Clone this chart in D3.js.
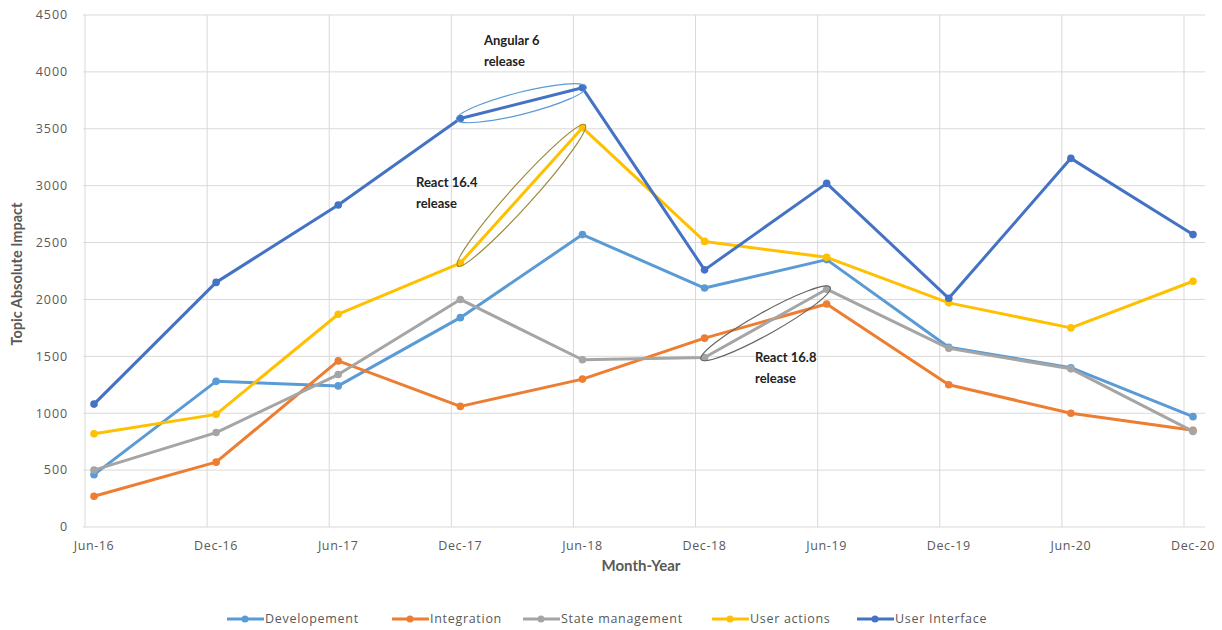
<!DOCTYPE html>
<html>
<head>
<meta charset="utf-8">
<script src="https://cdn.jsdelivr.net/npm/d3@7/dist/d3.min.js"></script>
<style>
  html, body { margin: 0; padding: 0; background: #fff; }
  svg { display: block; }
</style>
</head>
<body>
<div id="chart"></div>
<script>
  /* --- data ---------------------------------------------------------------- */
  const months = ['Jun-16', 'Dec-16', 'Jun-17', 'Dec-17', 'Jun-18', 'Dec-18', 'Jun-19', 'Dec-19', 'Jun-20', 'Dec-20'];
  const yTicks = [0, 500, 1000, 1500, 2000, 2500, 3000, 3500, 4000, 4500];

  const developement    = [460, 1280, 1240, 1840, 2570, 2100, 2350, 1580, 1400, 970];
  const integration     = [270, 570, 1460, 1060, 1300, 1660, 1960, 1250, 1000, 850];
  const stateManagement = [500, 830, 1340, 2000, 1470, 1490, 2090, 1570, 1390, 840];
  const userActions     = [820, 990, 1870, 2320, 3510, 2510, 2370, 1970, 1750, 2160];
  const userInterface   = [1080, 2150, 2830, 3590, 3860, 2260, 3020, 2010, 3240, 2570];

  const seriesNames  = ['Developement', 'Integration', 'State management', 'User actions', 'User Interface'];
  const seriesValues = [developement, integration, stateManagement, userActions, userInterface];
  const seriesColors = ['#5B9BD5', '#ED7D31', '#A5A5A5', '#FFC000', '#4472C4'];

  /* annotations: segment from index a to b on a series */
  const notes = [
    { series: 4, a: 3, b: 4, ry: 11, color: '#5B9BD5', text: ['Angular 6', 'release'], tx: 484, ty: 45 },
    { series: 3, a: 3, b: 4, ry: 11, color: '#9C8A3A', text: ['React 16.4', 'release'], tx: 416, ty: 187 },
    { series: 2, a: 5, b: 6, ry: 11, color: '#666666', text: ['React 16.8', 'release'], tx: 755, ty: 362 }
  ];

  /* --- layout -------------------------------------------------------------- */
  const W = 1222, H = 630;
  const FONT = 'Lato, "Open Sans", "Liberation Sans", sans-serif';
  const TICKFONT = '"Open Sans", "Liberation Sans", sans-serif';
  const gridLeft = 85, gridRight = 1205;
  const plotTop = 15, plotBottom = 527;

  const svg = d3.select('#chart').append('svg').attr('width', W).attr('height', H);

  const x = d3.scalePoint().domain(months).range([94, 1193]);
  const y = d3.scaleLinear().domain([0, 4500]).range([plotBottom, plotTop]);

  /* horizontal gridlines */
  svg.append('g').selectAll('line').data(yTicks).join('line')
    .attr('x1', gridLeft - 2).attr('x2', gridRight)
    .attr('y1', d => y(d)).attr('y2', d => y(d))
    .attr('stroke', '#D9D9D9').attr('stroke-width', 1);

  /* vertical gridlines (sit a bit left of each category point) */
  svg.append('g').selectAll('line').data(months).join('line')
    .attr('x1', d => x(d) - 9).attr('x2', d => x(d) - 9)
    .attr('y1', plotTop).attr('y2', plotBottom)
    .attr('stroke', '#D9D9D9').attr('stroke-width', 1);

  /* y tick labels */
  svg.append('g').selectAll('text').data(yTicks).join('text')
    .attr('x', 68).attr('y', d => y(d)).attr('dy', '0.35em')
    .attr('text-anchor', 'end')
    .attr('font-family', TICKFONT).attr('font-size', 12.5).attr('letter-spacing', 0.9)
    .attr('fill', '#595959')
    .text(d => d);

  /* x tick labels */
  svg.append('g').selectAll('text').data(months).join('text')
    .attr('x', d => x(d)).attr('y', 550)
    .attr('text-anchor', 'middle')
    .attr('font-family', TICKFONT).attr('font-size', 12.5).attr('letter-spacing', 0.6)
    .attr('fill', '#595959')
    .text(d => d);

  /* axis titles */
  svg.append('text')
    .attr('transform', 'translate(22,274) rotate(-90)')
    .attr('text-anchor', 'middle')
    .attr('font-family', FONT).attr('font-size', 14.5).attr('font-weight', 700).attr('fill', '#595959')
    .text('Topic Absolute Impact');

  svg.append('text')
    .attr('x', 641).attr('y', 571).attr('text-anchor', 'middle')
    .attr('font-family', FONT).attr('font-size', 15).attr('font-weight', 700).attr('fill', '#595959')
    .text('Month-Year');

  /* --- series ---------------------------------------------------------------- */
  const line = d3.line().x((d, i) => x(months[i])).y(d => y(d));

  seriesValues.forEach(function (vals, s) {
    const g = svg.append('g');
    g.append('path').datum(vals)
      .attr('d', line)
      .attr('fill', 'none')
      .attr('stroke', seriesColors[s])
      .attr('stroke-width', 3)
      .attr('stroke-linejoin', 'round');
    g.selectAll('circle').data(vals).join('circle')
      .attr('cx', (d, i) => x(months[i])).attr('cy', d => y(d))
      .attr('r', 3.8)
      .attr('fill', seriesColors[s]);
  });

  /* --- annotations ----------------------------------------------------------- */
  notes.forEach(function (n) {
    const vals = seriesValues[n.series];
    const x1 = x(months[n.a]), y1 = y(vals[n.a]);
    const x2 = x(months[n.b]), y2 = y(vals[n.b]);
    const cx = (x1 + x2) / 2, cy = (y1 + y2) / 2;
    const len = Math.hypot(x2 - x1, y2 - y1);
    const ang = Math.atan2(y2 - y1, x2 - x1) * 180 / Math.PI;
    svg.append('ellipse')
      .attr('cx', 0).attr('cy', 0)
      .attr('rx', len / 2 + 4).attr('ry', n.ry)
      .attr('transform', 'translate(' + cx + ',' + cy + ') rotate(' + ang + ')')
      .attr('fill', 'none')
      .attr('stroke', n.color)
      .attr('stroke-width', 1.2);
    n.text.forEach(function (t, k) {
      svg.append('text')
        .attr('x', n.tx).attr('y', n.ty + k * 21)
        .attr('font-family', FONT).attr('font-size', 13).attr('font-weight', 700)
        .attr('fill', '#222')
        .text(t);
    });
  });

  /* --- legend ------------------------------------------------------------------ */
  const legendY = 619;
  const legendX = [227, 392, 523, 712, 857];
  const legend = svg.append('g');
  seriesNames.forEach(function (name, s) {
    const lx = legendX[s];
    legend.append('line')
      .attr('x1', lx).attr('x2', lx + 37)
      .attr('y1', legendY).attr('y2', legendY)
      .attr('stroke', seriesColors[s]).attr('stroke-width', 3);
    legend.append('circle')
      .attr('cx', lx + 18).attr('cy', legendY).attr('r', 3.5)
      .attr('fill', seriesColors[s]);
    legend.append('text')
      .attr('x', lx + 38).attr('y', legendY).attr('dy', '0.35em')
      .attr('font-family', TICKFONT).attr('font-size', 12.5).attr('letter-spacing', 0.7)
      .attr('fill', '#595959')
      .text(name);
  });
</script>
</body>
</html>
